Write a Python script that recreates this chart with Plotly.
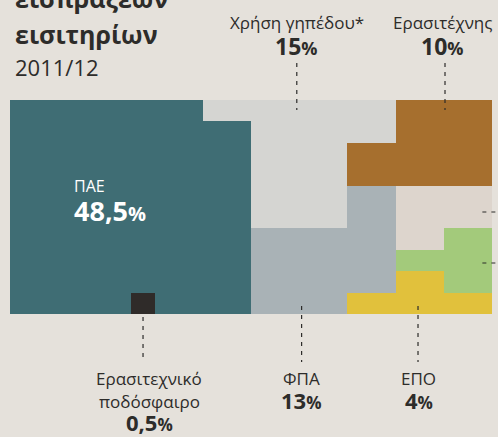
import plotly.graph_objects as go

# ---- data ----
categories = ["ΠΑΕ", "Ερασιτεχνικό ποδόσφαιρο", "Χρήση γηπέδου*", "ΦΠΑ",
              "Ερασιτέχνης", "ΕΠΟ", "Άλλο (πράσινο)", "Άλλο (μπεζ)"]
codes = ["T", "K", "L", "F", "B", "E", "G", "P"]
percent = [48.5, 0.5, 15, 13, 10, 4, 4, 5]
value_labels = ["48,5", "0,5", "15", "13", "10", "4", "", ""]

# waffle layout: each cell = 0.5%
grid_rows = [
    "TTTTTTTTLLLLLLLLBBBB",
    "TTTTTTTTTTLLLLLLBBBB",
    "TTTTTTTTTTLLLLBBBBBB",
    "TTTTTTTTTTLLLLBBBBBB",
    "TTTTTTTTTTLLLLFFPPPP",
    "TTTTTTTTTTLLLLFFPPPP",
    "TTTTTTTTTTFFFFFFPPGG",
    "TTTTTTTTTTFFFFFFGGGG",
    "TTTTTTTTTTFFFFFFEEGG",
    "TTTTTKTTTTFFFFEEEEEE",
]
for c, p in zip(codes, percent):
    assert sum(r.count(c) for r in grid_rows) == int(p * 2), c

colors = ["#3f6d74", "#2f2b29", "#d5d5d2", "#a9b2b6",
          "#a66f2e", "#e1c13c", "#a3ca7b", "#ddd5cd"]

nrows, ncols = len(grid_rows), len(grid_rows[0])
z = [[codes.index(ch) for ch in row] for row in grid_rows]
n = len(codes)
colorscale = []
for i, col in enumerate(colors):
    colorscale.append([i / n, col])
    colorscale.append([(i + 1) / n, col])

BG = "#e5e1db"
TXT = "#2d2c2a"

fig = go.Figure(go.Heatmap(
    z=z, x=list(range(ncols)), y=list(range(nrows)),
    colorscale=colorscale, zmin=-0.5, zmax=n - 0.5,
    showscale=False, xgap=0, ygap=0, hoverinfo="skip",
))

W, H = 498, 437
ML, MR, MT, MB = 10, 6, 100, 123
PW, PH = W - ML - MR, H - MT - MB


def py(pix):  # pixel-from-top -> paper y
    return (H - MB - pix) / PH


def cx(col):  # column centre -> paper x
    return (col + 0.5) / ncols


def pct(v, big, small):
    return (f"<b><span style='font-size:{big}px'>{v}</span>"
            f"<span style='font-size:{small}px'>%</span></b>")


ann = []
shapes = []
FONT = "Open Sans"
TX = 3 / PW

# title
ann.append(dict(text="<b>εισπράξεων</b>", x=TX, xref="paper", y=py(-2), yref="paper",
                xanchor="left", yanchor="middle", showarrow=False,
                font=dict(size=25, color=TXT, family=FONT)))
ann.append(dict(text="<b>εισιτηρίων</b>", x=TX, xref="paper", y=py(34), yref="paper",
                xanchor="left", yanchor="middle", showarrow=False,
                font=dict(size=25, color=TXT, family=FONT)))
ann.append(dict(text="2011/12", x=TX, xref="paper", y=py(67), yref="paper",
                xanchor="left", yanchor="middle", showarrow=False,
                font=dict(size=22, color=TXT, family=FONT)))

# top labels: (category index, label column, leader column)
top = [(2, 11.4, 11.4), (4, 17.43, 17.55)]
for idx, col, lc in top:
    ann.append(dict(text=categories[idx], x=col, xref="x", y=py(22), yref="paper",
                    xanchor="center", yanchor="middle", showarrow=False,
                    font=dict(size=17, color=TXT, family=FONT)))
    ann.append(dict(text=pct(value_labels[idx], 23, 18), x=col, xref="x", y=py(46),
                    yref="paper", xanchor="center", yanchor="middle", showarrow=False,
                    font=dict(color=TXT, family=FONT)))
    shapes.append(dict(type="line", xref="paper", yref="paper",
                       x0=cx(lc), x1=cx(lc), y0=py(63), y1=py(110),
                       line=dict(color=TXT, width=1.2, dash="4px,5px")))

# bottom labels
bottom = [(1, 5.27, 5.02, 317, "Ερασιτεχνικό<br>ποδόσφαιρο"), (3, 11.6, 11.6, 306, "ΦΠΑ"),
          (5, 16.47, 16.43, 306, "ΕΠΟ")]
for idx, col, lcol, y0, name in bottom:
    lines = name.split("<br>")
    for k, ln in enumerate(lines):
        ann.append(dict(text=ln, x=col, xref="x", y=py(378 + 23 * k), yref="paper",
                        xanchor="center", yanchor="middle", showarrow=False,
                        font=dict(size=17, color=TXT, family=FONT)))
    ann.append(dict(text=pct(value_labels[idx], 22, 17), x=col, xref="x",
                    y=py(378 + 22 * len(lines)), yref="paper",
                    xanchor="center", yanchor="middle", showarrow=False,
                    font=dict(color=TXT, family=FONT)))
    shapes.append(dict(type="line", xref="paper", yref="paper",
                       x0=cx(lcol), x1=cx(lcol), y0=py(y0), y1=py(362),
                       line=dict(color=TXT, width=1.2, dash="4px,5px")))

# right-side leader stubs (labels outside the frame)
for pix in (212, 263):
    shapes.append(dict(type="line", xref="paper", yref="paper",
                       x0=cx(19) + 0.005, x1=1.03, y0=py(pix), y1=py(pix),
                       line=dict(color=TXT, width=1.2, dash="4px,5px")))

# ΠΑΕ label inside teal block
ann.append(dict(text=categories[0], x=2.07, xref="x", y=py(186), yref="paper",
                xanchor="left", yanchor="middle", showarrow=False,
                font=dict(size=16, color="#ffffff", family=FONT)))
ann.append(dict(text=pct(value_labels[0], 27, 20), x=2.07, xref="x", y=py(210),
                yref="paper", xanchor="left", yanchor="middle", showarrow=False,
                font=dict(color="#ffffff", family=FONT)))

fig.update_layout(
    width=W, height=H,
    margin=dict(l=ML, r=MR, t=MT, b=MB, pad=0),
    paper_bgcolor=BG, plot_bgcolor=BG,
    xaxis=dict(visible=False, range=[-0.5, ncols - 0.5], fixedrange=True),
    yaxis=dict(visible=False, range=[nrows - 0.5, -0.5], fixedrange=True),
    annotations=ann, shapes=shapes, showlegend=False,
)

fig.write_html(
    "out.html",
    config={"displayModeBar": False},
    post_script="document.body.style.margin='0';"
                "document.body.style.overflow='hidden';"
                "document.body.style.background='" + BG + "';",
)
